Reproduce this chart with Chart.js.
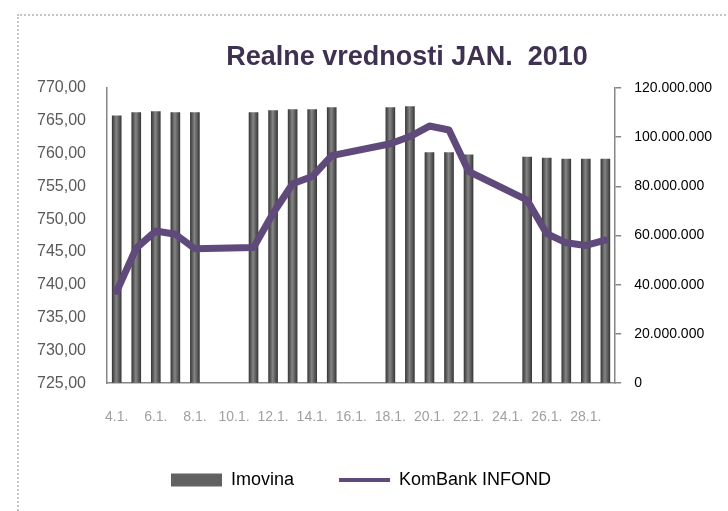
<!DOCTYPE html>
<html>
<head>
<meta charset="utf-8">
<script src="https://cdn.jsdelivr.net/npm/chart.js@4"></script>
<style>
  html, body { margin: 0; padding: 0; background: #fff; overflow: hidden; }
  #frame { position: absolute; left: 17px; top: 14px; width: 760px; height: 560px; border: 2px dotted #c4c4c4; }
  #chart { position: absolute; left: 0; top: 0; }
</style>
</head>
<body>
<div id="frame"></div>
<canvas id="chart" width="728" height="511"></canvas>
<script>
// dani u januaru 2010 (vikendi bez podataka)
const dates = ['4.1.', '5.1.', '6.1.', '7.1.', '8.1.', '9.1.', '10.1.', '11.1.', '12.1.', '13.1.',
    '14.1.', '15.1.', '16.1.', '17.1.', '18.1.', '19.1.', '20.1.', '21.1.', '22.1.', '23.1.',
    '24.1.', '25.1.', '26.1.', '27.1.', '28.1.', '29.1.'];

// Imovina (desna osa)
const imovina = [108700000, 110000000, 110400000, 110000000, 110000000, null, null,
    110000000, 110800000, 111200000, 111200000, 112000000, null, null,
    112000000, 112400000, 93700000, 93700000, 92800000, null, null,
    91900000, 91500000, 91100000, 91100000, 91100000];

// KomBank INFOND (leva osa)
const infond = [739.0, 745.6, 748.2, 747.7, 745.5, null, null,
    745.7, 750.9, 755.4, 756.5, 759.7, null, null,
    761.5, 762.6, 764.2, 763.6, 757.3, null, null,
    752.9, 747.8, 746.4, 746.0, 746.8];

const leftTicks = { min: 725, max: 770, step: 5 };
const rightTicks = { min: 0, max: 120000000, step: 20000000 };

const chartTitle = 'Realne vrednosti JAN.  2010';
const FONT = "'Liberation Sans', Arial, sans-serif";

// naslov je pomeren udesno kao u originalu
const titlePlugin = {
    id: 'offsetTitle',
    afterDraw(chart) {
        const ctx = chart.ctx;
        ctx.save();
        ctx.font = 'bold 27px ' + FONT;
        ctx.fillStyle = '#3f3151';
        ctx.textAlign = 'center';
        ctx.textBaseline = 'middle';
        ctx.fillText(chartTitle, 407, 58);
        ctx.restore();
    }
};

// gradijent za stubice (tamne ivice, svetlija sredina)
function barGradient(context) {
    const chart = context.chart;
    if (!chart.chartArea || context.dataIndex === undefined) return '#5e5e5e';
    const x = chart.scales.x.getPixelForValue(context.dataIndex);
    const g = chart.ctx.createLinearGradient(x - 4.5, 0, x + 4.5, 0);
    g.addColorStop(0, '#3a3a3a');
    g.addColorStop(0.45, '#858585');
    g.addColorStop(1, '#3a3a3a');
    return g;
}

function dotted(v) {
    return String(v).replace(/\B(?=(\d{3})+(?!\d))/g, '.');
}

new Chart(document.getElementById('chart').getContext('2d'), {
    type: 'bar',
    data: {
        labels: dates,
        datasets: [{
            label: 'Imovina',
            data: imovina,
            yAxisID: 'y1',
            backgroundColor: barGradient,
            barThickness: 9,
            order: 1
        }, {
            type: 'line',
            label: 'KomBank INFOND',
            data: infond,
            yAxisID: 'y',
            borderColor: '#604a7b',
            backgroundColor: '#604a7b',
            borderWidth: 7,
            borderJoinStyle: 'round',
            borderCapStyle: 'round',
            pointRadius: 0,
            tension: 0,
            spanGaps: true,
            order: 0
        }]
    },
    options: {
        responsive: false,
        animation: false,
        layout: { padding: { left: 37, right: 3, top: 88, bottom: 12 } },
        plugins: {
            title: { display: false },
            tooltip: { enabled: false },
            legend: {
                position: 'bottom',
                fullSize: false,
                labels: {
                    usePointStyle: true,
                    pointStyleWidth: 51,
                    boxHeight: 13,
                    padding: 45,
                    color: '#000',
                    font: { family: FONT, size: 18 },
                    generateLabels: function(chart) {
                        return [{
                            text: 'Imovina', datasetIndex: 0, pointStyle: 'rect',
                            fillStyle: '#626262', strokeStyle: '#626262', lineWidth: 0
                        }, {
                            text: 'KomBank INFOND', datasetIndex: 1, pointStyle: 'line',
                            fillStyle: '#604a7b', strokeStyle: '#604a7b', lineWidth: 4
                        }];
                    }
                }
            }
        },
        scales: {
            x: {
                grid: { display: false, drawTicks: true, tickLength: 26 },
                border: { display: true, color: '#868686', width: 1.5 },
                ticks: {
                    autoSkip: false,
                    maxRotation: 0,
                    minRotation: 0,
                    padding: 0,
                    color: '#a0a0a0',
                    font: { family: FONT, size: 14 },
                    callback: function(val, i) { return i % 2 === 0 ? dates[i] : ''; }
                }
            },
            y: {
                position: 'left',
                min: leftTicks.min,
                max: leftTicks.max,
                grid: { display: false, drawTicks: true, tickLength: 21 },
                border: { display: true, color: '#868686', width: 1.5 },
                ticks: {
                    stepSize: leftTicks.step,
                    padding: 0,
                    color: '#595959',
                    font: { family: FONT, size: 16 },
                    callback: v => v.toFixed(2).replace('.', ',')
                }
            },
            y1: {
                position: 'right',
                min: rightTicks.min,
                max: rightTicks.max,
                grid: { drawOnChartArea: false, color: '#868686', lineWidth: 1.5, tickLength: 6 },
                border: { display: true, color: '#868686', width: 1.5 },
                ticks: {
                    stepSize: rightTicks.step,
                    padding: 13,
                    color: '#000',
                    font: { family: FONT, size: 14 },
                    callback: v => dotted(v)
                }
            }
        }
    },
    plugins: [titlePlugin]
});
</script>
</body>
</html>
